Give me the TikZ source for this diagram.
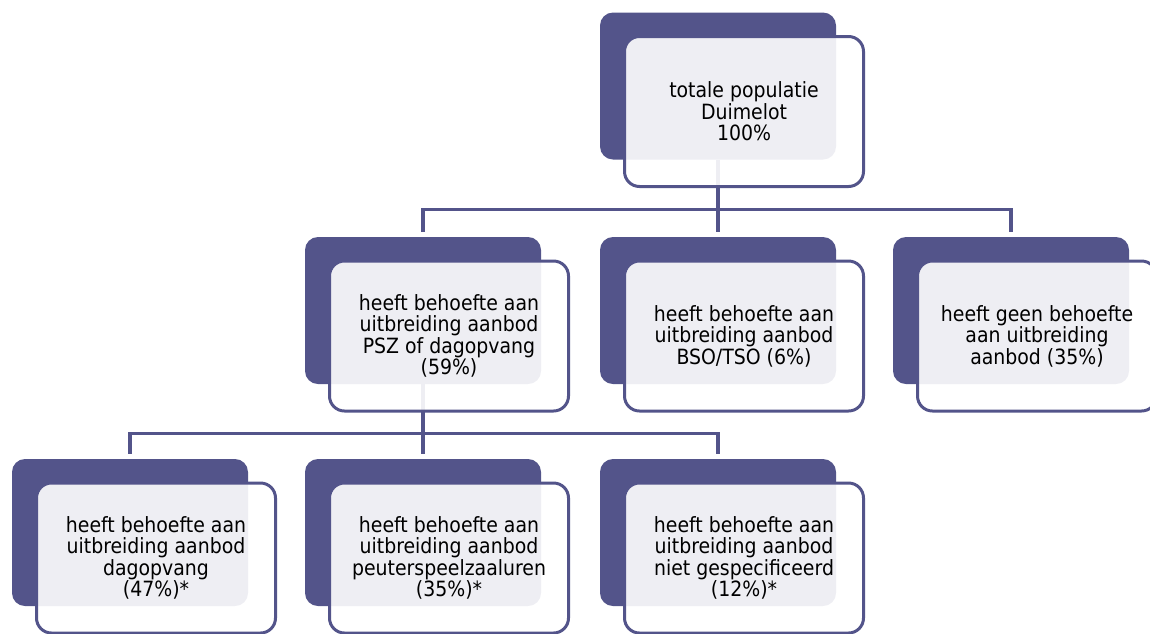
\documentclass[tikz,border=0pt]{standalone}
\usepackage{fontspec}
\setmainfont{DejaVu Sans Condensed}
\usetikzlibrary{backgrounds}
\definecolor{paars}{RGB}{83,84,138}
\tikzset{
  achter/.style={fill=paars, rounded corners=13pt, minimum width=236pt, minimum height=147pt, inner sep=0pt},
  voor/.style={draw=paars, line width=3pt, fill=white, fill opacity=0.9, text opacity=1,
    rounded corners=15pt, minimum width=239pt, minimum height=150pt, inner sep=0pt,
    align=center, font=\fontsize{21}{21.5}\selectfont},
  lijn/.style={draw=paars, line width=3.2pt}
}

\begin{document}
\begin{tikzpicture}[x=1pt,y=-1pt]
\useasboundingbox (0,0) rectangle (1150,633);
\clip (0,0) rectangle (1150,633);
% bovenste niveau
\node[achter] (totb) at (718,86) {};
\node[voor] (tot) at (744,111.5) {totale populatie\\Duimelot\\100\%};
% tweede niveau
\node[achter] (pszb) at (423,310.5) {};
\node[voor] (psz) at (449,336) {heeft behoefte aan\\uitbreiding aanbod\\PSZ of dagopvang\\(59\%)};
\node[achter] (bsob) at (718,310.5) {};
\node[voor] (bso) at (744,336) {heeft behoefte aan\\uitbreiding aanbod\\BSO/TSO (6\%)};
\node[achter] (geenb) at (1011,310.5) {};
\node[voor] (geen) at (1037,336) {heeft geen behoefte\\aan uitbreiding\\aanbod (35\%)};
% derde niveau
\node[achter] (dagb) at (130,532.5) {};
\node[voor] (dag) at (156,558) {heeft behoefte aan\\uitbreiding aanbod\\dagopvang\\(47\%)*};
\node[achter] (peutb) at (423,532.5) {};
\node[voor] (peut) at (449,558) {heeft behoefte aan\\uitbreiding aanbod\\peuterspeelzaaluren\\(35\%)*};
\node[achter] (nietb) at (718,532.5) {};
\node[voor] (niet) at (744,558) {heeft behoefte aan\\uitbreiding aanbod\\niet gespecificeerd\\(12\%)*};
% verbindingen
\begin{scope}[on background layer]
\draw[lijn] (totb.south) -- ++(0,50) -| ([yshift=5pt]pszb.north);
\draw[lijn] (totb.south) -- ++(0,50) -| ([yshift=5pt]bsob.north);
\draw[lijn] (totb.south) -- ++(0,50) -| ([yshift=5pt]geenb.north);
\draw[lijn] (pszb.south) -- ++(0,49) -| ([yshift=5pt]dagb.north);
\draw[lijn] (pszb.south) -- ++(0,49) -| ([yshift=5pt]peutb.north);
\draw[lijn] (pszb.south) -- ++(0,49) -| ([yshift=5pt]nietb.north);
\end{scope}
\end{tikzpicture}
\end{document}
